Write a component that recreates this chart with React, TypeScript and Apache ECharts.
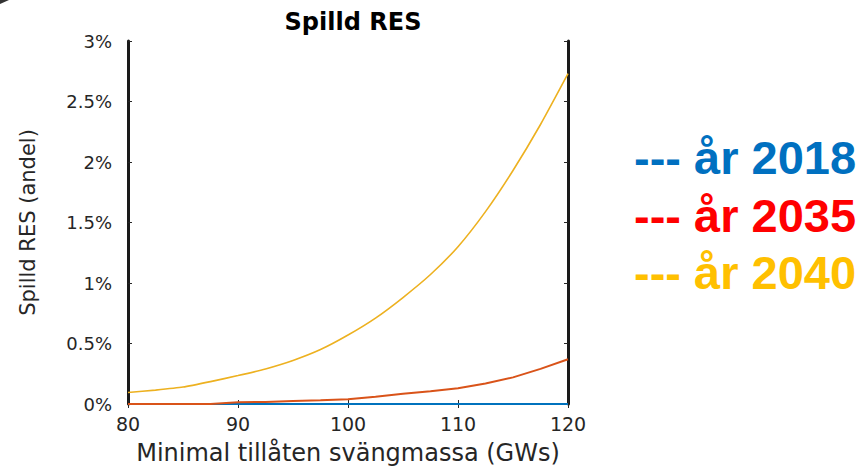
import React, { useEffect, useRef } from "react";
import * as echarts from "echarts";

const xValues = [80, 82.5, 85, 87.5, 90, 92.5, 95, 97.5, 100, 102.5, 105, 107.5, 110, 112.5, 115, 117.5, 120];
const y2018 = [0, 0, 0, 0, 0, 0, 0, 0, 0, 0, 0, 0, 0, 0, 0, 0, 0];
const y2035 = [0, 0, 0, 0, 0.015, 0.016, 0.025, 0.03, 0.04, 0.06, 0.085, 0.105, 0.13, 0.17, 0.22, 0.29, 0.37];
const y2040 = [0.095, 0.115, 0.14, 0.185, 0.235, 0.29, 0.36, 0.45, 0.57, 0.71, 0.88, 1.07, 1.3, 1.59, 1.93, 2.31, 2.73];
const legendLabels = ["--- år 2018", "--- år 2035", "--- år 2040"];
const legendColors = ["#0070C0", "#FF0000", "#FFC000"];
const lineColors = ["#0072BD", "#D95319", "#EDB120"];

const pairs = (ys: number[]) => xValues.map((x, i) => [x, ys[i]]);

export default function App() {
  const ref = useRef<HTMLDivElement>(null);
  useEffect(() => {
    if (!ref.current) return;
    const chart = echarts.init(ref.current, undefined, { renderer: "svg" });
    const font = "DejaVu Sans";
    const axisText = "#262626";
    const tickStyle = { show: true, inside: true, length: 4, lineStyle: { color: "#262626", width: 1 } };
    chart.setOption({
      animation: false,
      backgroundColor: "#ffffff",
      title: {
        text: "Spilld RES",
        left: 348,
        top: 5,
        textAlign: "center",
        textStyle: { fontFamily: font, fontWeight: "bold", fontSize: 24, color: "#000000" },
      },
      grid: { left: 128, right: 293, top: 41, bottom: 62, show: false },
      xAxis: [
        {
          type: "value",
          min: 80,
          max: 120,
          interval: 10,
          position: "bottom",
          name: "Minimal tillåten svängmassa (GWs)",
          nameLocation: "middle",
          nameGap: 37,
          nameTextStyle: { fontFamily: font, fontSize: 24, color: axisText },
          axisLine: { show: true, lineStyle: { color: "#262626", width: 1 } },
          axisTick: tickStyle,
          axisLabel: { fontFamily: font, fontSize: 19, color: axisText, margin: 10 },
          splitLine: { show: false },
        },
        {
          type: "value",
          min: 80,
          max: 120,
          interval: 10,
          position: "top",
          axisLine: { show: true, lineStyle: { color: "#262626", width: 1 } },
          axisTick: tickStyle,
          axisLabel: { show: false },
          splitLine: { show: false },
        },
      ],
      yAxis: [
        {
          type: "value",
          min: 0,
          max: 3,
          interval: 0.5,
          position: "left",
          name: "Spilld RES (andel)",
          nameLocation: "middle",
          nameRotate: 90,
          nameGap: 90,
          nameTextStyle: { fontFamily: font, fontSize: 21, color: axisText },
          axisLine: { show: true, lineStyle: { color: "#1a1a1a", width: 3 } },
          axisTick: tickStyle,
          axisLabel: { fontFamily: font, fontSize: 18, color: axisText, margin: 16, formatter: (v: number) => v + "%" },
          splitLine: { show: false },
        },
        {
          type: "value",
          min: 0,
          max: 3,
          interval: 0.5,
          position: "right",
          axisLine: { show: true, lineStyle: { color: "#1a1a1a", width: 3 } },
          axisTick: tickStyle,
          axisLabel: { show: false },
          splitLine: { show: false },
        },
      ],
      series: [
        { name: "år 2018", type: "line", data: pairs(y2018), showSymbol: false, lineStyle: { color: lineColors[0], width: 2 }, z: 2 },
        { name: "år 2035", type: "line", data: pairs(y2035), showSymbol: false, lineStyle: { color: lineColors[1], width: 2 }, z: 3 },
        { name: "år 2040", type: "line", data: pairs(y2040), showSymbol: false, smooth: 0.2, lineStyle: { color: lineColors[2], width: 1.6 }, z: 4 },
      ],
      graphic: [
        ...legendLabels.map((t, i) => ({
          type: "text",
          left: 634,
          top: 157.5 + i * 57.5 - 23.5,
          style: {
            text: t,
            fill: legendColors[i],
            fontFamily: "Liberation Sans",
            fontWeight: "bold",
            fontSize: 47,
          },
        })),
        {
          type: "polygon",
          shape: { points: [[0, 0], [9, 0], [0, 4]] },
          style: { fill: "#333333" },
        },
      ],
    });
    return () => chart.dispose();
  }, []);
  return <div ref={ref} style={{ position: "fixed", left: 0, top: 0, width: 861, height: 470 }} />;
}
